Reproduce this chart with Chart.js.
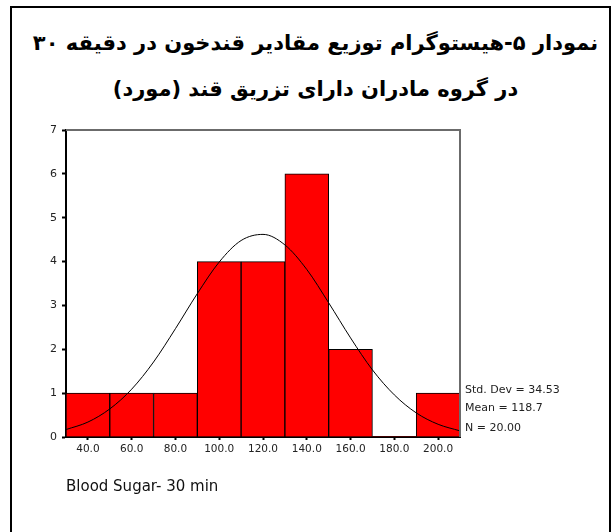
<!DOCTYPE html>
<html>
<head>
<meta charset="utf-8">
<script src="https://cdn.jsdelivr.net/npm/chart.js@4.4.1/dist/chart.umd.min.js"></script>
<style>
    html, body {
        margin: 0;
        padding: 0;
        background: #ffffff;
        overflow: hidden;
    }
    #page {
        position: relative;
        width: 612px;
        height: 532px;
    }
    #frame {
        position: absolute;
        left: 10px;
        top: 6px;
        width: 601px;
        height: 600px;
        box-sizing: border-box;
        border: 2px solid #000;
    }
    #title {
        position: absolute;
        left: 17px;
        top: 20px;
        width: 597px;
        text-align: center;
        direction: rtl;
        white-space: nowrap;
        font-family: "DejaVu Sans", sans-serif;
        font-weight: bold;
        font-size: 21px;
        line-height: 46px;
        color: #000;
    }
    #chart {
        position: absolute;
        left: 0;
        top: 0;
    }
</style>
</head>
<body>
<div id="page">
    <div id="frame"></div>
    <div id="title">نمودار ۵-هیستوگرام توزیع مقادیر قندخون در دقیقه ۳۰<br>در گروه مادران دارای تزریق قند (مورد)</div>
    <canvas id="chart" width="612" height="532"></canvas>
</div>
<script>
// histogram bins (centre of each 20-wide bin) and counts
const binCenters = [40, 60, 80, 100, 120, 140, 160, 180, 200];
const counts = [1, 1, 1, 4, 4, 6, 2, 0, 1];

// normal curve
const curveX = [30, 40, 50, 60, 70, 80, 90, 100, 110, 120, 130, 140, 150, 160, 170, 180, 190, 200, 210];
const curveY = [0.17, 0.34, 0.64, 1.09, 1.71, 2.47, 3.27, 3.99, 4.48, 4.62, 4.38, 3.82, 3.06, 2.26, 1.53, 0.96, 0.55, 0.29, 0.14];

const xTickValues = [40, 60, 80, 100, 120, 140, 160, 180, 200];
const yTickValues = [0, 1, 2, 3, 4, 5, 6, 7];

const stdDev = 34.53;
const mean = 118.7;
const n = 20;
const xLabel = 'Blood Sugar- 30 min';

const FONT = 'DejaVu Sans';

// gray top/right border of the plot box plus the stats text
const boxAndStats = {
    id: 'boxAndStats',
    afterDraw(chart) {
        const { ctx, chartArea } = chart;
        ctx.save();
        ctx.strokeStyle = '#6b6b6b';
        ctx.lineWidth = 2;
        ctx.beginPath();
        ctx.moveTo(chartArea.left, chartArea.top);
        ctx.lineTo(chartArea.right, chartArea.top);
        ctx.lineTo(chartArea.right, chartArea.bottom);
        ctx.stroke();

        ctx.fillStyle = '#222';
        ctx.font = `11px "${FONT}"`;
        ctx.textBaseline = 'middle';
        ctx.textAlign = 'left';
        const x = chartArea.right + 5;
        ctx.fillText(`Std. Dev = ${stdDev.toFixed(2)}`, x, 390);
        ctx.fillText(`Mean = ${mean.toFixed(1)}`, x, 408);
        ctx.fillText(`N = ${n.toFixed(2)}`, x, 428);
        ctx.restore();
    }
};

new Chart(document.getElementById('chart'), {
    type: 'bar',
    data: {
        datasets: [
            {
                type: 'line',
                data: curveX.map((x, i) => ({ x, y: curveY[i] })),
                borderColor: '#000',
                borderWidth: 1,
                pointRadius: 0,
                cubicInterpolationMode: 'monotone',
                order: 0
            },
            {
                type: 'bar',
                data: binCenters.map((x, i) => ({ x, y: counts[i] })),
                backgroundColor: '#ff0000',
                borderColor: '#000',
                borderWidth: ctx => (ctx.raw && ctx.raw.y === 0 ? 0 : 1),
                borderSkipped: 'bottom',
                barPercentage: 1,
                categoryPercentage: 1,
                order: 1
            }
        ]
    },
    options: {
        responsive: false,
        animation: false,
        layout: {
            padding: { left: 11, top: 130, right: 152, bottom: 0 }
        },
        plugins: {
            legend: { display: false },
            tooltip: { enabled: false }
        },
        scales: {
            x: {
                type: 'linear',
                min: 30,
                max: 210,
                offset: false,
                afterBuildTicks: scale => {
                    scale.ticks = xTickValues.map(v => ({ value: v }));
                },
                afterFit: scale => {
                    scale.height = 95;
                },
                grid: {
                    offset: false,
                    drawOnChartArea: false,
                    color: '#000',
                    tickLength: 3,
                    tickWidth: 2
                },
                border: { color: '#000', width: 2 },
                ticks: {
                    padding: 3,
                    maxRotation: 0,
                    color: '#222',
                    font: { family: FONT, size: 10.5 },
                    callback: v => Number(v).toFixed(1)
                },
                title: {
                    display: true,
                    text: xLabel,
                    align: 'start',
                    color: '#111',
                    font: { family: FONT, size: 15 },
                    padding: { top: 0, bottom: 36 }
                }
            },
            y: {
                min: 0,
                max: 7,
                afterBuildTicks: scale => {
                    scale.ticks = yTickValues.map(v => ({ value: v }));
                },
                afterFit: scale => {
                    scale.width = 55;
                },
                grid: {
                    drawOnChartArea: false,
                    color: '#000',
                    tickLength: 4,
                    tickWidth: 2
                },
                border: { color: '#000', width: 2 },
                ticks: {
                    padding: 5,
                    color: '#222',
                    font: { family: FONT, size: 11 }
                }
            }
        }
    },
    plugins: [boxAndStats]
});
</script>
</body>
</html>
